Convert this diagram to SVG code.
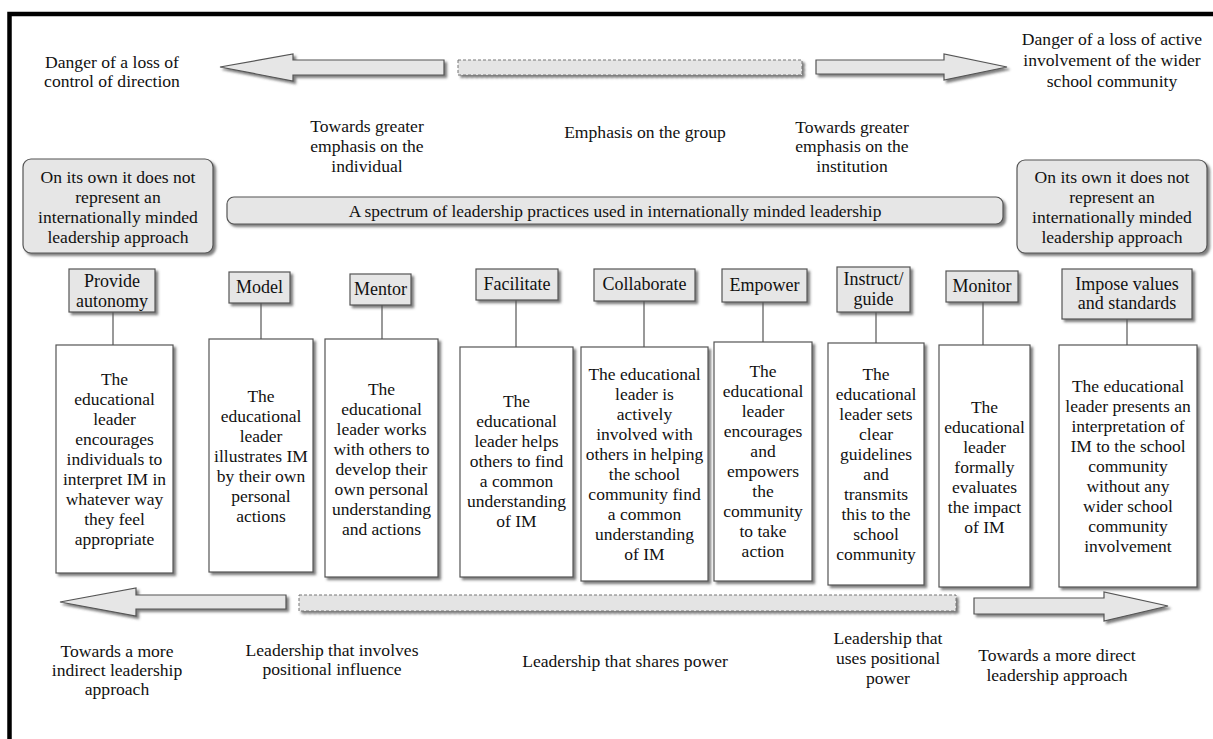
<svg xmlns="http://www.w3.org/2000/svg" width="1213" height="739" viewBox="0 0 1213 739">
  <style>
    text { font-family: "Liberation Serif", "Times New Roman", serif; font-size: 17.6px; fill: #111; text-anchor: middle; }
    .lbl { font-size: 18px; }
    .txt { font-size: 17.5px; }
    .bar { font-size: 17.4px; }
    .tag { fill: #e6e6e6; stroke: #555; stroke-width: 1.2; }
    .desc { fill: #ffffff; stroke: #555; stroke-width: 1.2; }
    .note { fill: #e6e6e6; stroke: #555; stroke-width: 1.2; }
    .arrow { fill: #e6e6e6; stroke: #555; stroke-width: 1.2; }
    .dash { fill: #e4e4e4; stroke: #777; stroke-width: 1; stroke-dasharray: 3 2; }
    .link { stroke: #555; stroke-width: 1.2; fill: none; }
  </style>
  <defs>
    <filter id="shadow" x="-10%" y="-10%" width="130%" height="130%">
      <feDropShadow dx="2.5" dy="2.5" stdDeviation="1.3" flood-color="#555" flood-opacity="0.75"/>
    </filter>
  </defs>

  <rect width="1213" height="739" fill="#ffffff"/>
  <!-- outer frame -->
  <rect x="9.5" y="14" width="1230" height="760" fill="none" stroke="#000" stroke-width="4.5"/>

  <!-- upper axis: individual / group / institution -->
  <g id="upper-axis" filter="url(#shadow)">
    <polygon class="arrow" points="220,67 293,54 293,60 444,60 444,75 293,75 293,81"/>
    <rect class="dash" x="458" y="60" width="344" height="15"/>
    <polygon class="arrow" points="816,60 944,60 944,54 1007,67 944,80 944,74 816,74"/>
  </g>
  <g id="upper-labels">
    <text><tspan x="112" y="68">Danger of a loss of</tspan><tspan x="112" y="87">control of direction</tspan></text>
    <text><tspan x="1112" y="45">Danger of a loss of active</tspan><tspan x="1112" y="66">involvement of the wider</tspan><tspan x="1112" y="87">school community</tspan></text>
    <text><tspan x="367" y="132">Towards greater</tspan><tspan x="367" y="152">emphasis on the</tspan><tspan x="367" y="172">individual</tspan></text>
    <text x="645" y="138">Emphasis on the group</text>
    <text><tspan x="852" y="133">Towards greater</tspan><tspan x="852" y="152">emphasis on the</tspan><tspan x="852" y="172">institution</tspan></text>
  </g>

  <!-- side notes and spectrum bar -->
  <g id="note-left">
    <rect class="note" x="23" y="159" width="190" height="94" rx="8" filter="url(#shadow)"/>
    <text><tspan x="118" y="183">On its own it does not</tspan><tspan x="118" y="203">represent an</tspan><tspan x="118" y="223">internationally minded</tspan><tspan x="118" y="243">leadership approach</tspan></text>
  </g>
  <g id="note-right">
    <rect class="note" x="1017" y="160" width="190" height="93" rx="8" filter="url(#shadow)"/>
    <text><tspan x="1112" y="183">On its own it does not</tspan><tspan x="1112" y="203">represent an</tspan><tspan x="1112" y="223">internationally minded</tspan><tspan x="1112" y="243">leadership approach</tspan></text>
  </g>
  <g id="spectrum">
    <rect class="note" x="227" y="197" width="776" height="27" rx="7" filter="url(#shadow)"/>
    <text class="bar" x="615" y="217">A spectrum of leadership practices used in internationally minded leadership</text>
  </g>

  <!-- connectors between practice tags and descriptions -->
  <g id="connectors">
    <line class="link" x1="113" y1="312" x2="113" y2="345"/>
    <line class="link" x1="261" y1="303" x2="261" y2="339"/>
    <line class="link" x1="382" y1="305" x2="382" y2="339"/>
    <line class="link" x1="516" y1="300" x2="516" y2="347"/>
    <line class="link" x1="644" y1="301" x2="644" y2="347"/>
    <line class="link" x1="763" y1="302" x2="763" y2="342"/>
    <line class="link" x1="876" y1="312" x2="876" y2="343"/>
    <line class="link" x1="983" y1="302" x2="983" y2="345"/>
    <line class="link" x1="1127" y1="319" x2="1127" y2="345"/>
  </g>

  <!-- practices -->
  <g id="autonomy">
    <rect class="tag" x="69" y="269" width="86" height="43" filter="url(#shadow)"/>
    <text class="lbl"><tspan x="112" y="287">Provide</tspan><tspan x="112" y="307">autonomy</tspan></text>
    <rect class="desc" x="56" y="345" width="117" height="228" filter="url(#shadow)"/>
    <text class="txt"><tspan x="114.5" y="385">The</tspan><tspan x="114.5" y="405">educational</tspan><tspan x="114.5" y="425">leader</tspan><tspan x="114.5" y="445">encourages</tspan><tspan x="114.5" y="465">individuals to</tspan><tspan x="114.5" y="485">interpret IM in</tspan><tspan x="114.5" y="505">whatever way</tspan><tspan x="114.5" y="525">they feel</tspan><tspan x="114.5" y="545">appropriate</tspan></text>
  </g>
  <g id="model">
    <rect class="tag" x="229" y="272" width="61" height="31" filter="url(#shadow)"/>
    <text class="lbl" x="259.5" y="293">Model</text>
    <rect class="desc" x="209" y="339" width="104" height="233" filter="url(#shadow)"/>
    <text class="txt"><tspan x="261" y="402">The</tspan><tspan x="261" y="422">educational</tspan><tspan x="261" y="442">leader</tspan><tspan x="261" y="462">illustrates IM</tspan><tspan x="261" y="482">by their own</tspan><tspan x="261" y="502">personal</tspan><tspan x="261" y="522">actions</tspan></text>
  </g>
  <g id="mentor">
    <rect class="tag" x="350" y="274" width="61" height="31" filter="url(#shadow)"/>
    <text class="lbl" x="380.5" y="295">Mentor</text>
    <rect class="desc" x="325" y="339" width="113" height="238" filter="url(#shadow)"/>
    <text class="txt"><tspan x="381.5" y="395">The</tspan><tspan x="381.5" y="415">educational</tspan><tspan x="381.5" y="435">leader works</tspan><tspan x="381.5" y="455">with others to</tspan><tspan x="381.5" y="475">develop their</tspan><tspan x="381.5" y="495">own personal</tspan><tspan x="381.5" y="515">understanding</tspan><tspan x="381.5" y="535">and actions</tspan></text>
  </g>
  <g id="facilitate">
    <rect class="tag" x="476" y="269" width="82" height="31" filter="url(#shadow)"/>
    <text class="lbl" x="517" y="290">Facilitate</text>
    <rect class="desc" x="460" y="347" width="113" height="230" filter="url(#shadow)"/>
    <text class="txt"><tspan x="516.5" y="407">The</tspan><tspan x="516.5" y="427">educational</tspan><tspan x="516.5" y="447">leader helps</tspan><tspan x="516.5" y="467">others to find</tspan><tspan x="516.5" y="487">a common</tspan><tspan x="516.5" y="507">understanding</tspan><tspan x="516.5" y="527">of IM</tspan></text>
  </g>
  <g id="collaborate">
    <rect class="tag" x="594" y="269" width="101" height="32" filter="url(#shadow)"/>
    <text class="lbl" x="644.5" y="290">Collaborate</text>
    <rect class="desc" x="581" y="347" width="127" height="234" filter="url(#shadow)"/>
    <text class="txt"><tspan x="644.5" y="380">The educational</tspan><tspan x="644.5" y="400">leader is</tspan><tspan x="644.5" y="420">actively</tspan><tspan x="644.5" y="440">involved with</tspan><tspan x="644.5" y="460">others in helping</tspan><tspan x="644.5" y="480">the school</tspan><tspan x="644.5" y="500">community find</tspan><tspan x="644.5" y="520">a common</tspan><tspan x="644.5" y="540">understanding</tspan><tspan x="644.5" y="560">of IM</tspan></text>
  </g>
  <g id="empower">
    <rect class="tag" x="722" y="269" width="85" height="33" filter="url(#shadow)"/>
    <text class="lbl" x="764.5" y="290.5">Empower</text>
    <rect class="desc" x="714" y="342" width="98" height="239" filter="url(#shadow)"/>
    <text class="txt"><tspan x="763" y="377">The</tspan><tspan x="763" y="397">educational</tspan><tspan x="763" y="417">leader</tspan><tspan x="763" y="437">encourages</tspan><tspan x="763" y="457">and</tspan><tspan x="763" y="477">empowers</tspan><tspan x="763" y="497">the</tspan><tspan x="763" y="517">community</tspan><tspan x="763" y="537">to take</tspan><tspan x="763" y="557">action</tspan></text>
  </g>
  <g id="instruct">
    <rect class="tag" x="837" y="267" width="73" height="45" filter="url(#shadow)"/>
    <text class="lbl"><tspan x="873.5" y="285">Instruct/</tspan><tspan x="873.5" y="305">guide</tspan></text>
    <rect class="desc" x="828" y="343" width="96" height="242" filter="url(#shadow)"/>
    <text class="txt"><tspan x="876" y="380">The</tspan><tspan x="876" y="400">educational</tspan><tspan x="876" y="420">leader sets</tspan><tspan x="876" y="440">clear</tspan><tspan x="876" y="460">guidelines</tspan><tspan x="876" y="480">and</tspan><tspan x="876" y="500">transmits</tspan><tspan x="876" y="520">this to the</tspan><tspan x="876" y="540">school</tspan><tspan x="876" y="560">community</tspan></text>
  </g>
  <g id="monitor">
    <rect class="tag" x="946" y="271" width="72" height="31" filter="url(#shadow)"/>
    <text class="lbl" x="982" y="292">Monitor</text>
    <rect class="desc" x="939" y="345" width="91" height="242" filter="url(#shadow)"/>
    <text class="txt"><tspan x="984.5" y="413">The</tspan><tspan x="984.5" y="433">educational</tspan><tspan x="984.5" y="453">leader</tspan><tspan x="984.5" y="473">formally</tspan><tspan x="984.5" y="493">evaluates</tspan><tspan x="984.5" y="513">the impact</tspan><tspan x="984.5" y="533">of IM</tspan></text>
  </g>
  <g id="impose">
    <rect class="tag" x="1062" y="269" width="130" height="50" filter="url(#shadow)"/>
    <text class="lbl"><tspan x="1127" y="290">Impose values</tspan><tspan x="1127" y="309">and standards</tspan></text>
    <rect class="desc" x="1059" y="345" width="138" height="242" filter="url(#shadow)"/>
    <text class="txt"><tspan x="1128" y="392">The educational</tspan><tspan x="1128" y="412">leader presents an</tspan><tspan x="1128" y="432">interpretation of</tspan><tspan x="1128" y="452">IM to the school</tspan><tspan x="1128" y="472">community</tspan><tspan x="1128" y="492">without any</tspan><tspan x="1128" y="512">wider school</tspan><tspan x="1128" y="532">community</tspan><tspan x="1128" y="552">involvement</tspan></text>
  </g>

  <!-- lower axis: indirect / shared / direct -->
  <g id="lower-axis" filter="url(#shadow)">
    <polygon class="arrow" points="60,602 136,588 136,595 286,595 286,609 136,609 136,616"/>
    <rect class="dash" x="299" y="595" width="657" height="16"/>
    <polygon class="arrow" points="974,598 1104,598 1104,592 1168,606 1104,621 1104,614 974,614"/>
  </g>
  <g id="lower-labels">
    <text><tspan x="117" y="657">Towards a more</tspan><tspan x="117" y="676">indirect leadership</tspan><tspan x="117" y="695">approach</tspan></text>
    <text><tspan x="332" y="656">Leadership that involves</tspan><tspan x="332" y="675">positional influence</tspan></text>
    <text x="625" y="667">Leadership that shares power</text>
    <text><tspan x="888" y="644">Leadership that</tspan><tspan x="888" y="664">uses positional</tspan><tspan x="888" y="684">power</tspan></text>
    <text><tspan x="1057" y="661">Towards a more direct</tspan><tspan x="1057" y="681">leadership approach</tspan></text>
  </g>
</svg>
